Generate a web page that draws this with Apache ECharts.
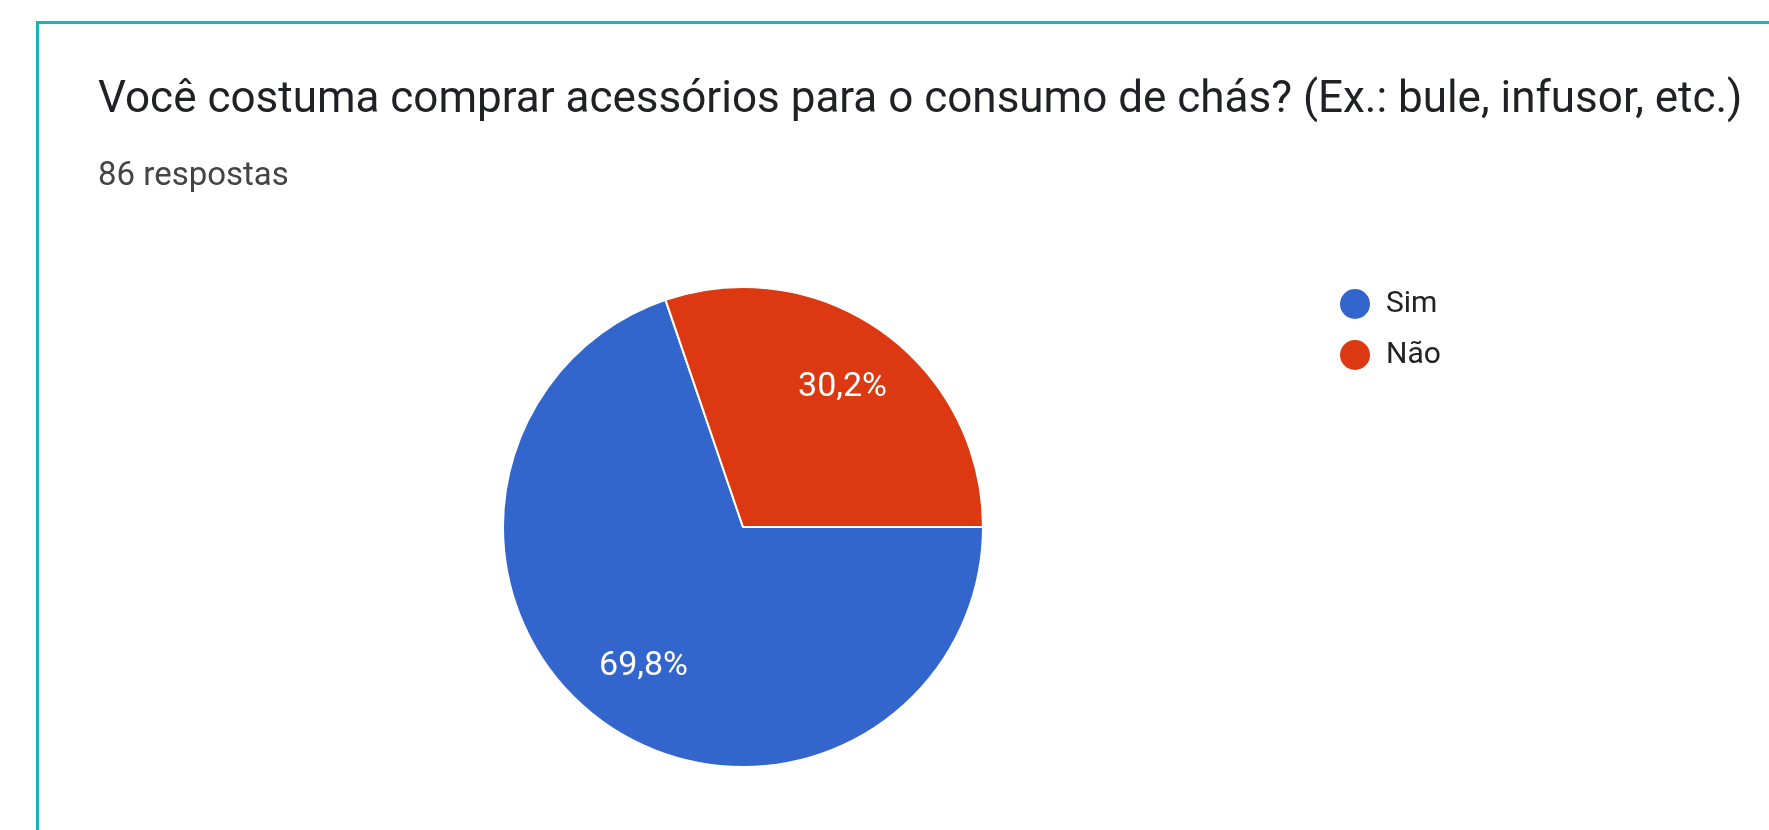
<!DOCTYPE html>
<html>
<head>
<meta charset="utf-8">
<script src="https://cdn.jsdelivr.net/npm/echarts@6/dist/echarts.min.js"></script>
<style>
html,body{margin:0;padding:0;background:#fff;}
#chart{width:1769px;height:830px;}
</style>
</head>
<body>
<div id="chart"></div>
<script>
const titleText = 'Você costuma comprar acessórios para o consumo de chás? (Ex.: bule, infusor, etc.)';
const subtitleText = '86 respostas';
const categories = ['Sim', 'Não'];
const counts = [60, 26];
const colors = ['#3366cc', '#dc3912'];

const data = categories.map((c, i) => ({ name: c, value: counts[i], itemStyle: { color: colors[i] } }));
const total = counts.reduce((a, b) => a + b, 0);

const chart = echarts.init(document.getElementById('chart'));
chart.setOption({
  backgroundColor: '#ffffff',
  animation: false,
  graphic: [{
    type: 'rect',
    shape: { x: 37.5, y: 22.5, width: 1800, height: 900 },
    style: { fill: 'none', stroke: '#14b6b8', lineWidth: 3 },
    silent: true
  }],
  title: [{
    text: titleText,
    left: 98, top: 75,
    padding: 0,
    textStyle: { fontFamily: 'Roboto', fontWeight: 'normal', fontSize: 44, color: '#202124', lineHeight: 52 }
  }, {
    text: subtitleText,
    left: 98, top: 158,
    padding: 0,
    textStyle: { fontFamily: 'Roboto', fontWeight: 'normal', fontSize: 33, color: '#444444', lineHeight: 38 }
  }],
  legend: {
    orient: 'vertical',
    left: 1338, top: 287,
    padding: 0,
    icon: 'circle',
    itemWidth: 32, itemHeight: 32,
    itemGap: 17,
    selectedMode: false,
    data: categories.map((c, i) => ({ name: c, itemStyle: { color: colors[i] } })),
    textStyle: { fontFamily: 'Roboto', fontSize: 30, color: '#222222', padding: [0, 0, 0, 10] }
  },
  series: [{
    type: 'pie',
    center: [743, 527],
    radius: 240,
    startAngle: 0,
    clockwise: true,
    label: { show: false },
    labelLine: { show: false },
    itemStyle: { borderColor: '#ffffff', borderWidth: 2 },
    emphasis: { disabled: true },
    data: data
  }, {
    type: 'pie',
    center: [743, 527],
    radius: [96, 240],
    startAngle: 0,
    clockwise: true,
    silent: true,
    itemStyle: { color: 'rgba(0,0,0,0)' },
    label: {
      show: true,
      position: 'inside',
      fontFamily: 'Roboto',
      fontSize: 34,
      color: '#ffffff',
      formatter: p => (p.value / total * 100).toFixed(1).replace('.', ',') + '%'
    },
    labelLine: { show: false },
    emphasis: { disabled: true },
    data: categories.map((c, i) => ({ name: c, value: counts[i], itemStyle: { color: 'rgba(0,0,0,0)' } }))
  }]
});
</script>
</body>
</html>
